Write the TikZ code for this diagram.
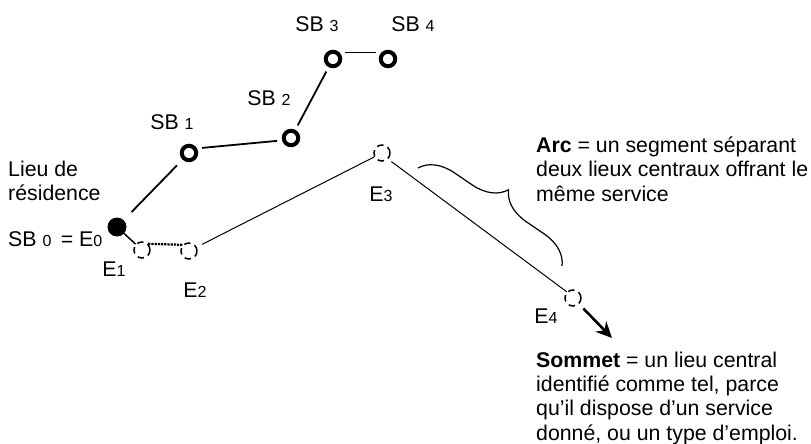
\documentclass[tikz,border=0pt]{standalone}
\usepackage{fontspec}
\setmainfont{Liberation Sans}
\usetikzlibrary{arrows.meta, decorations.pathreplacing}
\tikzstyle{sbnode} = [
    circle,
    draw=black,
    line width=4pt,
    minimum size=14.5pt,
    inner sep=0pt
]
\tikzstyle{homenode} = [
    circle,
    fill=black,
    minimum size=19pt,
    inner sep=0pt
]
\tikzstyle{enode} = [
    circle,
    draw=black,
    line width=1.5pt,
    dash pattern=on 6.5pt off 4.5pt,
    minimum size=16pt,
    inner sep=0pt
]
\tikzstyle{tag} = [inner sep=0pt]
\tikzstyle{note} = [align=left, inner sep=0pt]
\tikzstyle{link} = [line width=1.8pt, shorten >=5pt, shorten <=5pt]
\tikzstyle{route} = [line width=1pt]
\tikzstyle{arrow} = [line width=2.6pt, -{Stealth[length=16pt, width=15pt]}]
\newcommand{\idx}[1]{{\fontsize{16}{16}\selectfont #1}}

\begin{document}
\begin{tikzpicture}[x=1pt, y=-1pt, font=\fontsize{21.3}{24.3}\selectfont]
\useasboundingbox (0,0) rectangle (811,444);

% lieux centraux
\node (sb0) [homenode] at (117,227) {};
\node (sb1) [sbnode] at (189,153) {};
\node (sb2) [sbnode] at (291,138) {};
\node (sb3) [sbnode] at (333,59) {};
\node (sb4) [sbnode] at (388,59) {};

% sommets E
\node (e1) [enode] at (142,250) {};
\node (e2) [enode] at (189,251) {};
\node (e3) [enode] at (382,153) {};
\node (e4) [enode] at (573,298) {};
\coordinate (tip) at (612,338);

% etiquettes
\node (lsb1) [tag] at (172,122) {SB \idx{1}};
\node (lsb2) [tag] at (269,98) {SB \idx{2}};
\node (lsb3) [tag] at (317,24) {SB \idx{3}};
\node (lsb4) [tag] at (413,24) {SB \idx{4}};
\node (le1) [tag] at (114,269) {E\idx{1}};
\node (le2) [tag] at (195,290) {E\idx{2}};
\node (le3) [tag] at (381,194) {E\idx{3}};
\node (le4) [tag] at (546,316) {E\idx{4}};
\node (lieu) [note, anchor=base west] at (8,200.5) {Lieu de\\résidence};
\node (lsb0) [note, anchor=base west] at (8,246.5) {SB \idx{0} \,= E\idx{0}};
\node (arc) [note, anchor=base west] at (536,201)
{\textbf{Arc} = un segment séparant\\deux lieux centraux offrant le\\même service};
\node (sommet) [note, anchor=base west] at (536,440)
{\textbf{Sommet} = un lieu central\\identifié comme tel, parce\\qu’il dispose d’un service\\donné, ou un type d’emploi.};

% liens
\draw [link, shorten >=8pt, shorten <=11pt] (sb0) -- (sb1);
\draw [link] (sb1.30) -- (sb2.195);
\draw [link] (sb2) -- (sb3);
\draw [link] (sb3.45) -- (sb4.135);

\draw [line width=1.5pt] (sb0) -- (e1);
\draw [line width=2.2pt, densely dotted] (e1.north east) -- (e2.north west);
\draw [route, shorten <=6pt] (e2) -- (e3);
\draw [route, shorten <=4pt] (e3.south east) -- (e4.north west);
\draw [arrow, shorten <=6pt] (e4.south east) -- (tip);

% accolade
\draw [line width=1.2pt, decorate, decoration={brace, amplitude=33pt}]
(418,168) -- (562,266);

\end{tikzpicture}
\end{document}
